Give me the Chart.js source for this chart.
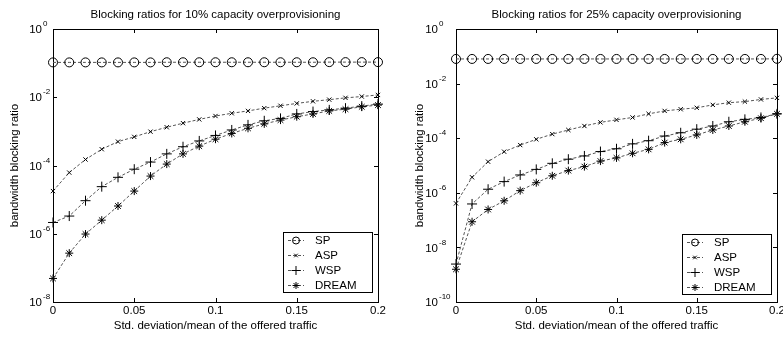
<!DOCTYPE html>
<html>
<head>
<meta charset="utf-8">
<script src="https://cdn.jsdelivr.net/npm/chart.js@4.4.1/dist/chart.umd.min.js"></script>
<style>
  html, body { margin: 0; padding: 0; background: #fff; }
  #wrap { position: relative; width: 783px; height: 337px; overflow: hidden; }
  canvas { position: absolute; top: 0; }
</style>
</head>
<body>
<div id="wrap">
  <canvas id="left" width="391" height="337" style="left:0"></canvas>
  <canvas id="right" width="392" height="337" style="left:391px"></canvas>
</div>
<script>
// x: std. deviation / mean of the offered traffic
const offeredStd = [0, 0.01, 0.02, 0.03, 0.04, 0.05, 0.06, 0.07, 0.08, 0.09, 0.1,
  0.11, 0.12, 0.13, 0.14, 0.15, 0.16, 0.17, 0.18, 0.19, 0.2];
const xTicks = [0, 0.05, 0.1, 0.15, 0.2];
const xTickLabels = ['0', '0.05', '0.1', '0.15', '0.2'];
const seriesNames = ['SP', 'ASP', 'WSP', 'DREAM'];

// 10% overprovisioning
const sp10 = [0.105, 0.105, 0.105, 0.105, 0.105, 0.105, 0.105, 0.106, 0.106, 0.106, 0.106,
  0.106, 0.106, 0.106, 0.106, 0.106, 0.106, 0.107, 0.107, 0.107, 0.107];
const asp10 = [1.78e-5, 6.2e-5, 1.5e-4, 3.0e-4, 5.0e-4, 6.9e-4, 9.8e-4, 1.32e-3, 1.74e-3, 2.24e-3, 2.82e-3,
  3.39e-3, 3.98e-3, 4.79e-3, 5.62e-3, 6.6e-3, 7.6e-3, 8.5e-3, 9.6e-3, 1.05e-2, 1.17e-2];
const wsp10 = [2.14e-6, 3.3e-6, 9.3e-6, 2.4e-5, 4.5e-5, 7.8e-5, 1.26e-4, 2.19e-4, 3.55e-4, 5.25e-4, 7.6e-4,
  1.1e-3, 1.55e-3, 2.04e-3, 2.4e-3, 3.24e-3, 3.8e-3, 4.27e-3, 4.79e-3, 5.5e-3, 6.3e-3];
const dream10 = [4.9e-8, 2.7e-7, 9.8e-7, 2.5e-6, 6.5e-6, 1.78e-5, 4.9e-5, 1.1e-4, 2.19e-4, 3.7e-4, 5.9e-4,
  8.7e-4, 1.23e-3, 1.66e-3, 2.14e-3, 2.69e-3, 3.24e-3, 3.98e-3, 4.47e-3, 5.25e-3, 5.9e-3];

// 25% overprovisioning
const sp25 = [0.08, 0.08, 0.08, 0.08, 0.08, 0.08, 0.08, 0.08, 0.08, 0.08, 0.08,
  0.08, 0.08, 0.08, 0.08, 0.08, 0.08, 0.08, 0.08, 0.08, 0.081];
const asp25 = [4.1e-7, 3.7e-6, 1.38e-5, 3.2e-5, 5.6e-5, 9.1e-5, 1.41e-4, 2.0e-4, 2.8e-4, 3.8e-4, 4.7e-4,
  5.75e-4, 7.8e-4, 1.0e-3, 1.15e-3, 1.3e-3, 1.66e-3, 2.0e-3, 2.19e-3, 2.63e-3, 3.0e-3];
const wsp25 = [2.45e-9, 3.9e-7, 1.35e-6, 2.57e-6, 4.5e-6, 7.2e-6, 1.2e-5, 1.7e-5, 2.24e-5, 3.24e-5, 4.1e-5,
  6.2e-5, 8.1e-5, 1.2e-4, 1.58e-4, 2.14e-4, 2.8e-4, 4.0e-4, 4.9e-4, 5.75e-4, 7.8e-4];
const dream25 = [1.58e-9, 8.7e-8, 2.45e-7, 5.1e-7, 1.2e-6, 2.34e-6, 4.2e-6, 6.5e-6, 9.1e-6, 1.45e-5, 1.9e-5,
  2.8e-5, 3.9e-5, 6.9e-5, 9.1e-5, 1.32e-4, 2.0e-4, 2.8e-4, 4.0e-4, 5.4e-4, 7.8e-4];

const yExp10 = [0, -2, -4, -6, -8];
const yExp25 = [0, -2, -4, -6, -8, -10];

const FONT = '"Liberation Sans", Arial, sans-serif';
const styles = [
  { pointStyle: 'circle', radius: 4.5, legR: 3.5 },
  { pointStyle: 'crossRot', radius: 3, legR: 2.5 },
  { pointStyle: 'cross', radius: 5, legR: 4.5 },
  { pointStyle: 'star', radius: 4, legR: 3.5 }
];

function drawMarker(ctx, st, x, y) {
  ctx.save();
  ctx.strokeStyle = '#000';
  ctx.fillStyle = 'rgba(0,0,0,0)';
  ctx.lineWidth = 1;
  ctx.setLineDash([]);
  Chart.helpers.drawPoint(ctx, { pointStyle: st.pointStyle, radius: st.legR, rotation: 0, borderWidth: 1 }, x, y);
  ctx.restore();
}

// MATLAB-like axes: box, inward ticks, 10^n labels, title, axis labels, legend
const matlabAxes = {
  id: 'matlabAxes',
  beforeDatasetsDraw(chart, args, o) {
    const ctx = chart.ctx;
    const a = chart.chartArea;
    const xs = chart.scales.x, ys = chart.scales.y;
    ctx.save();
    ctx.strokeStyle = '#000';
    ctx.lineWidth = 1;
    ctx.strokeRect(Math.round(a.left) + 0.5, Math.round(a.top) + 0.5,
      Math.round(a.right - a.left), Math.round(a.bottom - a.top));
    ctx.beginPath();
    xTicks.forEach(v => {
      const px = Math.round(xs.getPixelForValue(v)) + 0.5;
      ctx.moveTo(px, a.bottom); ctx.lineTo(px, a.bottom - 4);
      ctx.moveTo(px, a.top); ctx.lineTo(px, a.top + 4);
    });
    o.exps.forEach(e => {
      const py = Math.round(ys.getPixelForValue(Math.pow(10, e))) + 0.5;
      ctx.moveTo(a.left, py); ctx.lineTo(a.left + 4, py);
      ctx.moveTo(a.right, py); ctx.lineTo(a.right - 4, py);
    });
    ctx.stroke();

    ctx.fillStyle = '#000';
    ctx.font = '11.5px ' + FONT;
    ctx.textAlign = 'center';
    ctx.textBaseline = 'middle';
    xTicks.forEach((v, i) => {
      ctx.fillText(xTickLabels[i], xs.getPixelForValue(v), a.bottom + 9);
    });
    o.exps.forEach(e => {
      const py = ys.getPixelForValue(Math.pow(10, e));
      ctx.font = '11.5px ' + FONT;
      ctx.textAlign = 'right';
      ctx.fillText('10', o.tenRight, py + 1);
      ctx.font = '8px ' + FONT;
      ctx.textAlign = 'left';
      ctx.fillText(String(e), o.tenRight + 1, py - 5);
    });

    const cx = (a.left + a.right) / 2;
    ctx.font = '11.5px ' + FONT;
    ctx.textAlign = 'center';
    ctx.fillText(o.title, cx, 15);
    ctx.fillText('Std. deviation/mean of the offered traffic', cx, a.bottom + 24);
    ctx.save();
    ctx.translate(o.yLabelX, (a.top + a.bottom) / 2);
    ctx.rotate(-Math.PI / 2);
    ctx.fillText('bandwidth blocking ratio', 0, 0);
    ctx.restore();
    ctx.restore();
  },
  afterDatasetsDraw(chart, args, o) {
    const ctx = chart.ctx;
    const a = chart.chartArea;
    const w = 89, h = 60;
    const L = Math.round(a.right - o.legRight - w), T = Math.round(a.bottom - o.legBottom - h);
    ctx.save();
    ctx.fillStyle = '#fff';
    ctx.fillRect(L, T, w, h);
    ctx.strokeStyle = '#000';
    ctx.lineWidth = 1;
    ctx.strokeRect(L + 0.5, T + 0.5, w, h);
    seriesNames.forEach((name, i) => {
      const y = T + 8.5 + i * 15;
      ctx.strokeStyle = '#555';
      ctx.setLineDash([3, 2]);
      ctx.beginPath();
      ctx.moveTo(L + 5, y); ctx.lineTo(L + 21, y);
      ctx.stroke();
      drawMarker(ctx, styles[i], L + 13, y);
      ctx.fillStyle = '#000';
      ctx.font = '11.5px ' + FONT;
      ctx.textAlign = 'left';
      ctx.textBaseline = 'middle';
      ctx.fillText(name, L + 32, y + 0.5);
    });
    ctx.restore();
  }
};

function makeChart(id, series, yMin, opts, padding) {
  const datasets = series.map((vals, i) => ({
    label: seriesNames[i],
    data: offeredStd.map((x, k) => ({ x: x, y: vals[k] })),
    borderColor: '#555',
    borderWidth: 1,
    borderDash: [3, 2],
    pointStyle: styles[i].pointStyle,
    pointRadius: styles[i].radius,
    pointBorderColor: '#000',
    pointBackgroundColor: 'rgba(0,0,0,0)',
    pointBorderWidth: 1,
    tension: 0,
    clip: false
  }));
  return new Chart(document.getElementById(id), {
    type: 'line',
    data: { datasets: datasets },
    options: {
      responsive: false,
      animation: false,
      devicePixelRatio: 1,
      layout: { padding: padding },
      scales: {
        x: { type: 'linear', min: 0, max: 0.2, display: false },
        y: { type: 'logarithmic', min: Math.pow(10, yMin), max: 1, display: false }
      },
      plugins: {
        legend: { display: false },
        tooltip: { enabled: false },
        matlabAxes: opts
      }
    },
    plugins: [matlabAxes]
  });
}

makeChart('left', [sp10, asp10, wsp10, dream10], -8, {
  title: 'Blocking ratios for 10% capacity overprovisioning',
  exps: yExp10, tenRight: 42, yLabelX: 15, legRight: 6, legBottom: 10
}, { left: 53, top: 29, right: 13, bottom: 35 });

makeChart('right', [sp25, asp25, wsp25, dream25], -10, {
  title: 'Blocking ratios for 25% capacity overprovisioning',
  exps: yExp25, tenRight: 47, yLabelX: 29, legRight: 6, legBottom: 8
}, { left: 65, top: 29, right: 2, bottom: 35 });
</script>
</body>
</html>
